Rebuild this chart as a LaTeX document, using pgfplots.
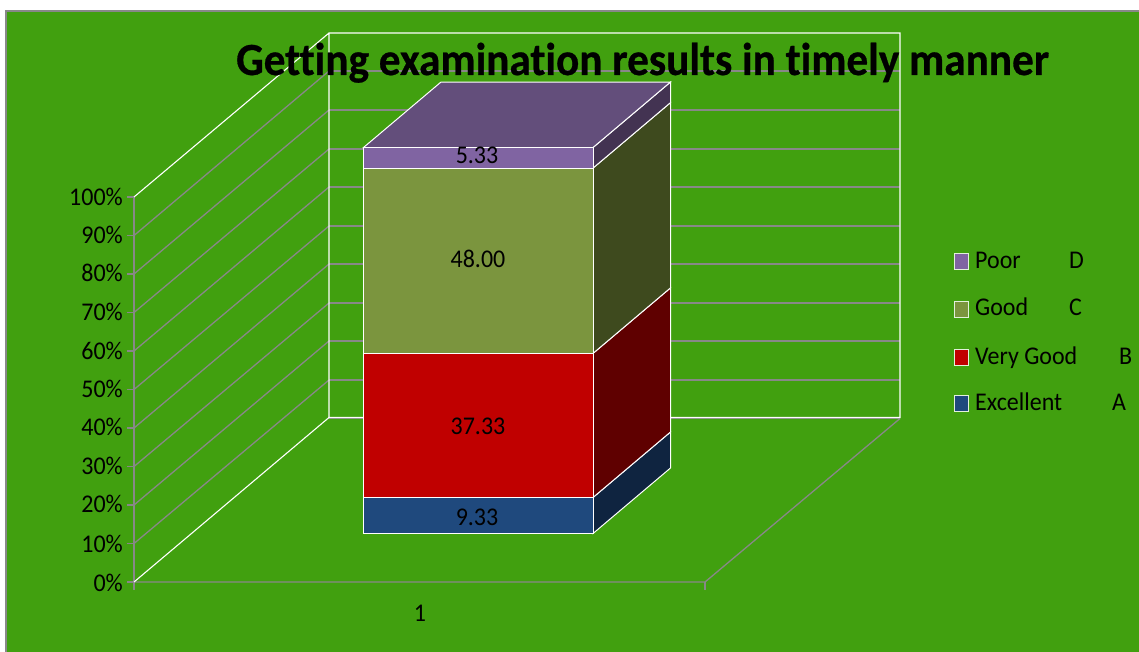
\documentclass[border=0pt]{standalone}
\usepackage{pgfplots}
\pgfplotsset{compat=1.18}
\usepackage{fontspec}
\setmainfont[Ligatures={NoCommon,NoRequired,NoContextual},FakeStretch=0.94,BoldFeatures={FakeBold=0.6}]{Carlito}
\definecolor{bg}{RGB}{65,160,15}
\definecolor{fr}{RGB}{136,136,136}
\definecolor{pF}{RGB}{128,100,162}
\definecolor{pT}{RGB}{99,78,123}
\definecolor{pS}{RGB}{67,51,82}
\definecolor{oF}{RGB}{123,149,62}
\definecolor{oS}{RGB}{62,74,30}
\definecolor{rF}{RGB}{192,0,0}
\definecolor{rS}{RGB}{95,0,0}
\definecolor{bF}{RGB}{31,73,125}
\definecolor{bS}{RGB}{15,36,64}
\pgfplotsset{base/.style={width=1139pt,height=652pt,scale only axis,axis lines=none,
  xmin=0,xmax=1139},
  px/.style={base,ymin=0,ymax=652,y dir=reverse},
  pc/.style={base,ymin=-30.70,ymax=138.21},
  grid line/.style={fr,line width=1.3pt},
  wh/.style={white,line width=1.1pt},
  face/.style={draw=white,line width=1pt,fill=#1}}
\newcommand{\lab}{\fontsize{25.5}{30}\selectfont}
\begin{document}
\begin{tikzpicture}
\useasboundingbox (0,0) rectangle (1139pt,652pt);
% chart area and walls, in picture coordinates
\begin{axis}[px]
\addplot[fill=bg,draw=fr,line width=1.8pt] coordinates {(6,11)(1145,11)(1145,660)(6,660)} -- cycle;
% back-wall gridlines
\addplot[grid line] coordinates {(329,71)(900,71)};
\addplot[grid line] coordinates {(329,110)(900,110)};
\addplot[grid line] coordinates {(329,149)(900,149)};
\addplot[grid line] coordinates {(329,187)(900,187)};
\addplot[grid line] coordinates {(329,226)(900,226)};
\addplot[grid line] coordinates {(329,264)(900,264)};
\addplot[grid line] coordinates {(329,303)(900,303)};
\addplot[grid line] coordinates {(329,341)(900,341)};
\addplot[grid line] coordinates {(329,380)(900,380)};
\addplot[grid line] coordinates {(329,418.5)(900,418.5)};
% side-wall gridlines
\addplot[grid line] coordinates {(134,235.5)(329,71)};
\addplot[grid line] coordinates {(134,274)(329,110)};
\addplot[grid line] coordinates {(134,312.5)(329,149)};
\addplot[grid line] coordinates {(134,351)(329,187)};
\addplot[grid line] coordinates {(134,389.5)(329,226)};
\addplot[grid line] coordinates {(134,428)(329,264)};
\addplot[grid line] coordinates {(134,466.5)(329,303)};
\addplot[grid line] coordinates {(134,505)(329,341)};
\addplot[grid line] coordinates {(134,543.5)(329,380)};
% axes and floor
\addplot[grid line] coordinates {(134,197)(134,590)};
\addplot[grid line] coordinates {(134,582)(705,582)(900,418.5)};
\addplot[grid line] coordinates {(705,582)(705,590)};
\addplot[grid line] coordinates {(127,197)(134,197)};
\addplot[grid line] coordinates {(127,235.5)(134,235.5)};
\addplot[grid line] coordinates {(127,274)(134,274)};
\addplot[grid line] coordinates {(127,312.5)(134,312.5)};
\addplot[grid line] coordinates {(127,351)(134,351)};
\addplot[grid line] coordinates {(127,389.5)(134,389.5)};
\addplot[grid line] coordinates {(127,428)(134,428)};
\addplot[grid line] coordinates {(127,466.5)(134,466.5)};
\addplot[grid line] coordinates {(127,505)(134,505)};
\addplot[grid line] coordinates {(127,543.5)(134,543.5)};
\addplot[grid line] coordinates {(127,582)(134,582)};
% white wall edges
\addplot[wh] coordinates {(134,197)(329,33)(900,33)(900,417.5)(329,417.5)(329,33)};
\addplot[wh] coordinates {(134,582)(329,417.5)};
\end{axis}
% the stacked 3-D column, in per cent
\begin{axis}[pc]
\addplot[face=bS] coordinates {(593,0)(670.5,16.97)(670.5,26.30)(593,9.33)} -- cycle;
\addplot[face=rS] coordinates {(593,9.33)(670.5,26.30)(670.5,63.63)(593,46.66)} -- cycle;
\addplot[face=oS] coordinates {(593,46.66)(670.5,63.63)(670.5,111.63)(593,94.66)} -- cycle;
\addplot[face=pS] coordinates {(593,94.66)(670.5,111.63)(670.5,116.96)(593,99.99)} -- cycle;
\addplot[face=pT] coordinates {(363.5,99.99)(441,116.96)(670.5,116.96)(593,99.99)} -- cycle;
\addplot[face=bF] coordinates {(363.5,0)(593,0)(593,9.33)(363.5,9.33)} -- cycle;
\addplot[face=rF] coordinates {(363.5,9.33)(593,9.33)(593,46.66)(363.5,46.66)} -- cycle;
\addplot[face=oF] coordinates {(363.5,46.66)(593,46.66)(593,94.66)(363.5,94.66)} -- cycle;
\addplot[face=pF] coordinates {(363.5,94.66)(593,94.66)(593,99.99)(363.5,99.99)} -- cycle;
\end{axis}
% text and legend
\begin{axis}[px]
\addplot[face=pF,draw=white!85!bg] coordinates {(954.5,253.5)(968.5,253.5)(968.5,269.5)(954.5,269.5)} -- cycle;
\addplot[face=oF,draw=white!85!bg] coordinates {(954.5,301.5)(968.5,301.5)(968.5,317.5)(954.5,317.5)} -- cycle;
\addplot[face=rF,draw=white!85!bg] coordinates {(954.5,349.5)(968.5,349.5)(968.5,365.5)(954.5,365.5)} -- cycle;
\addplot[face=bF,draw=white!85!bg] coordinates {(954.5,395.5)(968.5,395.5)(968.5,411.5)(954.5,411.5)} -- cycle;
\tikzset{lb/.style={inner sep=0pt,font=\lab,text=black}}
\node[lb,anchor=base west,font=\bfseries\fontsize{46}{50}\selectfont] at (axis cs:236,75) {Getting examination results in timely manner};
\node[lb,anchor=base east] at (axis cs:123,206) {100\%};
\node[lb,anchor=base east] at (axis cs:123,244) {90\%};
\node[lb,anchor=base east] at (axis cs:123,282) {80\%};
\node[lb,anchor=base east] at (axis cs:123,320) {70\%};
\node[lb,anchor=base east] at (axis cs:123,359) {60\%};
\node[lb,anchor=base east] at (axis cs:123,397) {50\%};
\node[lb,anchor=base east] at (axis cs:123,435) {40\%};
\node[lb,anchor=base east] at (axis cs:123,474) {30\%};
\node[lb,anchor=base east] at (axis cs:123,512) {20\%};
\node[lb,anchor=base east] at (axis cs:123,552) {10\%};
\node[lb,anchor=base east] at (axis cs:123,591) {0\%};
\node[lb,anchor=base] at (axis cs:420,621) {1};
\node[lb,anchor=base] at (axis cs:477,164) {5.33};
\node[lb,anchor=base] at (axis cs:478,268) {48.00};
\node[lb,anchor=base] at (axis cs:478,434) {37.33};
\node[lb,anchor=base] at (axis cs:477,525) {9.33};
\node[lb,anchor=base west] at (axis cs:975,269) {Poor};
\node[lb,anchor=base west] at (axis cs:1069,269) {D};
\node[lb,anchor=base west] at (axis cs:975,316) {Good};
\node[lb,anchor=base west] at (axis cs:1069,316) {C};
\node[lb,anchor=base west] at (axis cs:975,364) {Very Good};
\node[lb,anchor=base west] at (axis cs:1119,364) {B};
\node[lb,anchor=base west] at (axis cs:975,410) {Excellent};
\node[lb,anchor=base west] at (axis cs:1112,410) {A};
\end{axis}
\end{tikzpicture}
\end{document}
